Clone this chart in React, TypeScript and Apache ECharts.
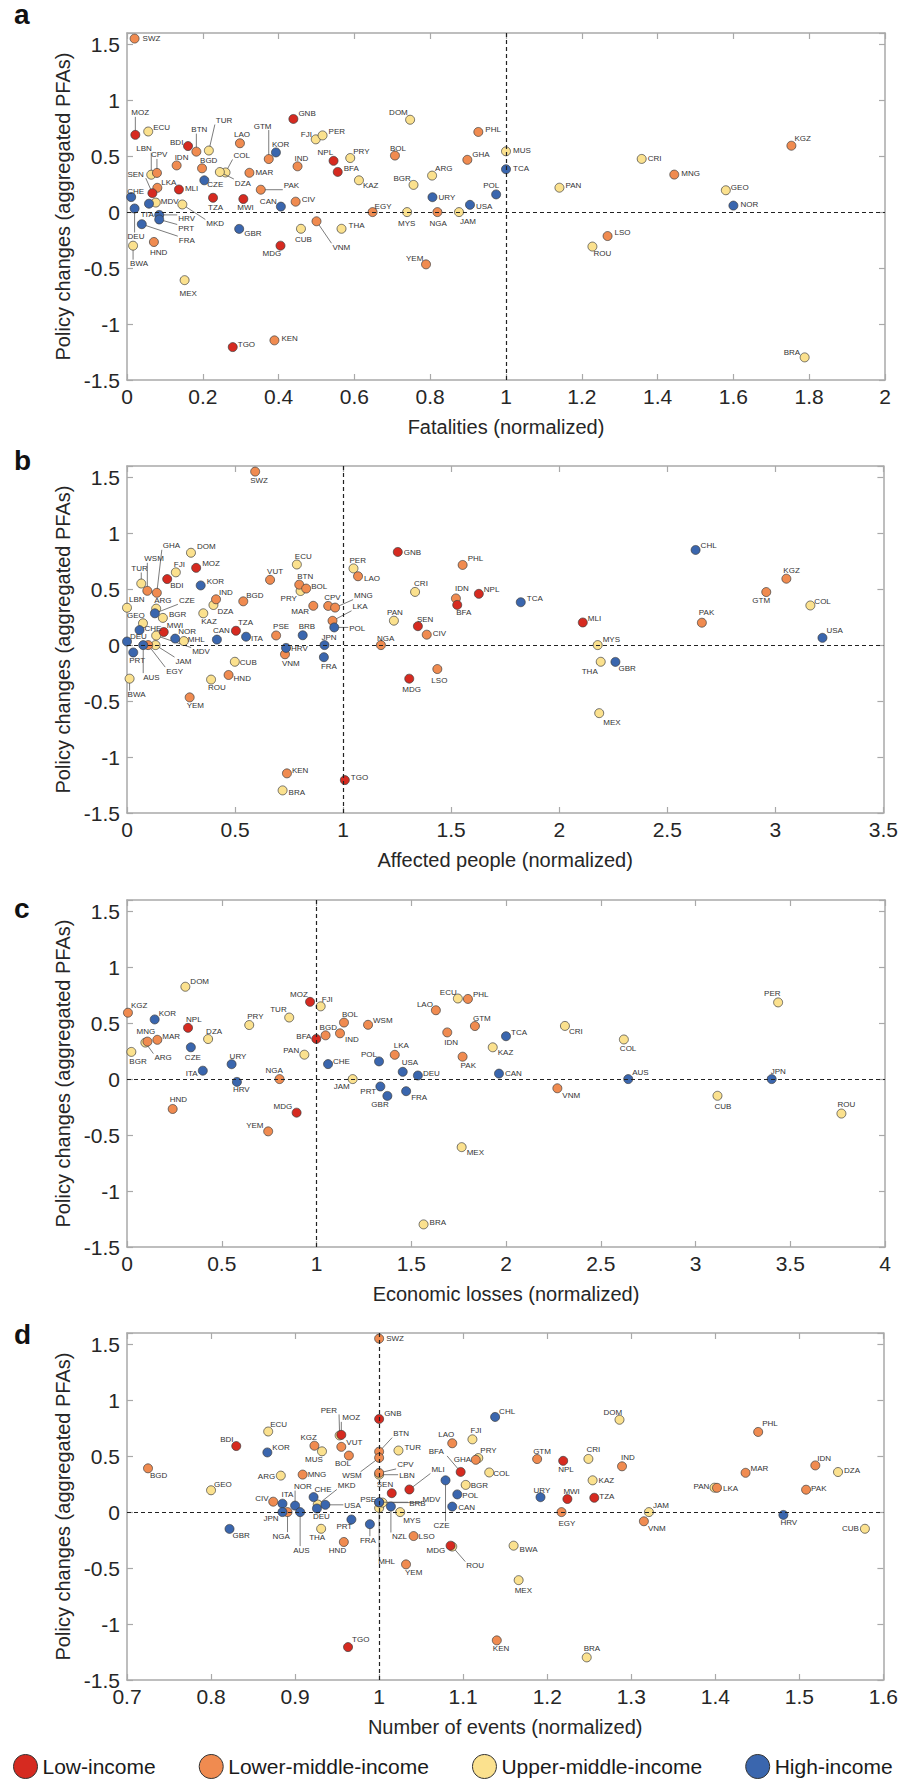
import React, { useEffect, useRef } from "react";
import * as echarts from "echarts";

const FONT = '"Liberation Sans", Arial, Helvetica, sans-serif';

const incomeGroups = ["Low-income", "Lower-middle-income", "Upper-middle-income", "High-income"];
const groupColors = ["#d62a20", "#f08b50", "#fbe18e", "#3a66ae"];

const lowIncome = ["MOZ", "BDI", "GNB", "NPL", "BFA", "SEN", "MLI", "TZA", "MWI", "MDG", "TGO"];
const lowerMiddleIncome = ["SWZ", "BTN", "LAO", "GTM", "BOL", "PHL", "GHA", "IND", "MAR", "PAK", "IDN", "BGD", "CPV", "LKA", "CIV", "VNM", "HND", "KEN", "EGY", "NGA", "YEM", "MNG", "KGZ", "LSO", "WSM", "VUT", "PSE"];
const upperMiddleIncome = ["ECU", "TUR", "FJI", "PER", "PRY", "DOM", "MUS", "COL", "DZA", "LBN", "MDV", "MKD", "CUB", "THA", "BWA", "MEX", "MYS", "JAM", "KAZ", "BGR", "ARG", "PAN", "CRI", "GEO", "ROU", "BRA", "MHL"];
const highIncome = ["KOR", "TCA", "CZE", "CHE", "DEU", "ITA", "HRV", "PRT", "FRA", "CAN", "GBR", "URY", "USA", "POL", "NOR", "CHL", "JPN", "AUS", "NZL", "BRB"];

// Policy changes (aggregated PFAs) per country (y value, shared by all panels)
const policyChanges: [string, number][] = [
  ["SWZ", 1.55], ["MOZ", 0.69], ["ECU", 0.72], ["BDI", 0.59], ["BTN", 0.54], ["TUR", 0.55], ["LAO", 0.615],
  ["GTM", 0.474], ["KOR", 0.533], ["GNB", 0.832], ["FJI", 0.65], ["PER", 0.685], ["NPL", 0.458], ["BFA", 0.359],
  ["PRY", 0.483], ["DOM", 0.825], ["BOL", 0.505], ["PHL", 0.716], ["GHA", 0.467], ["MUS", 0.543], ["TCA", 0.383],
  ["IND", 0.409], ["COL", 0.354], ["DZA", 0.358], ["MAR", 0.351], ["PAK", 0.2], ["CZE", 0.284], ["IDN", 0.417],
  ["BGD", 0.391], ["LBN", 0.334], ["CPV", 0.35], ["SEN", 0.169], ["LKA", 0.217], ["MLI", 0.202], ["CHE", 0.134],
  ["DEU", 0.032], ["ITA", 0.075], ["MDV", 0.085], ["HRV", -0.025], ["PRT", -0.066], ["FRA", -0.108], ["MKD", 0.068],
  ["TZA", 0.128], ["MWI", 0.117], ["CAN", 0.049], ["CIV", 0.093], ["GBR", -0.15], ["CUB", -0.149], ["VNM", -0.082],
  ["THA", -0.149], ["MDG", -0.3], ["HND", -0.267], ["BWA", -0.3], ["MEX", -0.608], ["TGO", -1.206], ["KEN", -1.146],
  ["EGY", 0], ["MYS", 0], ["NGA", 0], ["JAM", 0], ["KAZ", 0.284], ["BGR", 0.243], ["ARG", 0.326], ["URY", 0.133],
  ["USA", 0.065], ["POL", 0.158], ["YEM", -0.467], ["PAN", 0.218], ["CRI", 0.475], ["MNG", 0.335], ["KGZ", 0.593],
  ["GEO", 0.195], ["NOR", 0.058], ["LSO", -0.214], ["ROU", -0.308], ["BRA", -1.298], ["WSM", 0.485], ["VUT", 0.583],
  ["PSE", 0.086], ["BRB", 0.088], ["JPN", 0], ["AUS", 0], ["MHL", 0.036], ["CHL", 0.85], ["NZL", 0.05],
];

// Panel a: Fatalities (normalized)
const fatalities: [string, number][] = [
  ["SWZ", 0.02], ["MOZ", 0.022], ["ECU", 0.056], ["BDI", 0.161], ["BTN", 0.183], ["TUR", 0.216], ["LAO", 0.298],
  ["GTM", 0.374], ["KOR", 0.393], ["GNB", 0.439], ["FJI", 0.498], ["PER", 0.516], ["NPL", 0.545], ["BFA", 0.556],
  ["PRY", 0.589], ["DOM", 0.747], ["BOL", 0.707], ["PHL", 0.927], ["GHA", 0.898], ["MUS", 1.0], ["TCA", 1.0],
  ["IND", 0.45], ["COL", 0.26], ["DZA", 0.245], ["MAR", 0.323], ["PAK", 0.353], ["CZE", 0.204], ["IDN", 0.131],
  ["BGD", 0.198], ["LBN", 0.064], ["CPV", 0.079], ["SEN", 0.067], ["LKA", 0.08], ["MLI", 0.137], ["CHE", 0.011],
  ["DEU", 0.02], ["ITA", 0.058], ["MDV", 0.076], ["HRV", 0.085], ["PRT", 0.085], ["FRA", 0.039], ["MKD", 0.146],
  ["TZA", 0.227], ["MWI", 0.307], ["CAN", 0.406], ["CIV", 0.445], ["GBR", 0.296], ["CUB", 0.459], ["VNM", 0.5],
  ["THA", 0.566], ["MDG", 0.405], ["HND", 0.071], ["BWA", 0.016], ["MEX", 0.152], ["TGO", 0.279], ["KEN", 0.389],
  ["EGY", 0.648], ["MYS", 0.739], ["NGA", 0.819], ["JAM", 0.876], ["KAZ", 0.612], ["BGR", 0.756], ["ARG", 0.805],
  ["URY", 0.806], ["USA", 0.905], ["POL", 0.974], ["YEM", 0.789], ["PAN", 1.141], ["CRI", 1.358], ["MNG", 1.444],
  ["KGZ", 1.753], ["GEO", 1.58], ["NOR", 1.6], ["LSO", 1.268], ["ROU", 1.228], ["BRA", 1.788],
];

// Panel b: Affected people (normalized)
const affectedPeople: [string, number][] = [
  ["SWZ", 0.593], ["GHA", 0.138], ["WSM", 0.094], ["TUR", 0.066], ["FJI", 0.226], ["DOM", 0.296], ["MOZ", 0.32],
  ["BDI", 0.186], ["KOR", 0.341], ["LBN", 0.0], ["ARG", 0.135], ["CZE", 0.129], ["BGR", 0.166], ["GEO", 0.074],
  ["CHE", 0.058], ["MWI", 0.17], ["DEU", 0.0], ["PRT", 0.029], ["AUS", 0.075], ["EGY", 0.098], ["JAM", 0.132],
  ["MDV", 0.135], ["NOR", 0.223], ["MHL", 0.263], ["IND", 0.412], ["DZA", 0.4], ["KAZ", 0.353], ["BGD", 0.538],
  ["CAN", 0.416], ["TZA", 0.504], ["ITA", 0.551], ["CUB", 0.499], ["HND", 0.47], ["ROU", 0.389], ["BWA", 0.012],
  ["YEM", 0.29], ["ECU", 0.786], ["VUT", 0.662], ["BTN", 0.797], ["BOL", 0.829], ["PRY", 0.803], ["MAR", 0.862],
  ["CPV", 0.931], ["MNG", 0.963], ["LKA", 0.951], ["POL", 0.959], ["PSE", 0.69], ["BRB", 0.813], ["JPN", 0.914],
  ["HRV", 0.736], ["VNM", 0.731], ["FRA", 0.911], ["PER", 1.048], ["LAO", 1.069], ["GNB", 1.253], ["PHL", 1.553],
  ["CRI", 1.333], ["IDN", 1.522], ["NPL", 1.628], ["BFA", 1.528], ["PAN", 1.235], ["SEN", 1.346], ["CIV", 1.387],
  ["NGA", 1.175], ["MDG", 1.306], ["LSO", 1.436], ["KEN", 0.74], ["BRA", 0.72], ["TGO", 1.008], ["TCA", 1.822],
  ["MLI", 2.109], ["MYS", 2.178], ["THA", 2.192], ["GBR", 2.26], ["MEX", 2.185], ["CHL", 2.631], ["PAK", 2.66],
  ["GTM", 2.958], ["KGZ", 3.051], ["COL", 3.162], ["USA", 3.218],
];

// Panel c: Economic losses (normalized)
const economicLosses: [string, number][] = [
  ["DOM", 0.308], ["KGZ", 0.005], ["KOR", 0.146], ["NPL", 0.322], ["MNG", 0.108], ["ARG", 0.097], ["MAR", 0.16],
  ["BGR", 0.023], ["CZE", 0.337], ["DZA", 0.428], ["ITA", 0.4], ["PRY", 0.645], ["URY", 0.552], ["HRV", 0.58],
  ["HND", 0.241], ["NGA", 0.805], ["TUR", 0.856], ["PAN", 0.936], ["MOZ", 0.966], ["FJI", 1.022], ["BFA", 0.999],
  ["BGD", 1.048], ["BOL", 1.145], ["IND", 1.124], ["CHE", 1.061], ["JAM", 1.191], ["WSM", 1.272], ["MDG", 0.895],
  ["YEM", 0.745], ["LKA", 1.413], ["POL", 1.33], ["USA", 1.455], ["DEU", 1.535], ["PRT", 1.337], ["GBR", 1.374],
  ["FRA", 1.473], ["LAO", 1.63], ["ECU", 1.746], ["PHL", 1.799], ["IDN", 1.69], ["GTM", 1.836], ["PAK", 1.771],
  ["KAZ", 1.93], ["MEX", 1.766], ["BRA", 1.565], ["TCA", 2.0], ["CAN", 1.963], ["CRI", 2.311], ["VNM", 2.271],
  ["COL", 2.622], ["AUS", 2.645], ["CUB", 3.116], ["PER", 3.436], ["JPN", 3.402], ["ROU", 3.77],
];

// Panel d: Number of events (normalized)
const numberOfEvents: [string, number][] = [
  ["SWZ", 1.0], ["GNB", 1.0], ["BGD", 0.725], ["BDI", 0.83], ["ECU", 0.868], ["KOR", 0.867], ["GEO", 0.8],
  ["GBR", 0.822], ["ARG", 0.883], ["CIV", 0.874], ["ITA", 0.885], ["JPN", 0.885], ["NGA", 0.891], ["NOR", 0.9],
  ["AUS", 0.906], ["KGZ", 0.923], ["MUS", 0.932], ["MNG", 0.909], ["CHE", 0.922], ["MKD", 0.927], ["DEU", 0.926],
  ["USA", 0.936], ["MOZ", 0.955], ["PER", 0.953], ["VUT", 0.955], ["BOL", 0.964], ["THA", 0.931], ["HND", 0.958],
  ["PRT", 0.967], ["FRA", 0.989], ["TGO", 0.963], ["BTN", 1.0], ["WSM", 1.0], ["CPV", 1.0], ["LBN", 1.0],
  ["PSE", 1.0], ["BRB", 1.0], ["MHL", 1.0], ["TUR", 1.023], ["SEN", 1.015], ["MLI", 1.036], ["MDV", 1.004],
  ["NZL", 1.014], ["MYS", 1.025], ["LSO", 1.041], ["YEM", 1.032], ["LAO", 1.087], ["FJI", 1.111], ["GHA", 1.115],
  ["PRY", 1.118], ["BFA", 1.097], ["COL", 1.131], ["CZE", 1.079], ["BGR", 1.103], ["POL", 1.093], ["CAN", 1.087],
  ["MDG", 1.085], ["ROU", 1.087], ["CHL", 1.138], ["KEN", 1.14], ["GTM", 1.188], ["NPL", 1.219], ["CRI", 1.249],
  ["IND", 1.289], ["DOM", 1.286], ["KAZ", 1.254], ["URY", 1.192], ["MWI", 1.224], ["TZA", 1.256], ["EGY", 1.217],
  ["JAM", 1.321], ["VNM", 1.315], ["BWA", 1.16], ["MEX", 1.166], ["BRA", 1.247], ["PHL", 1.451], ["MAR", 1.436],
  ["PAN", 1.399], ["LKA", 1.402], ["IDN", 1.519], ["DZA", 1.546], ["PAK", 1.508], ["HRV", 1.481], ["CUB", 1.578],
];

const xAxisNames = ["Fatalities (normalized)", "Affected people (normalized)", "Economic losses (normalized)", "Number of events (normalized)"];
const xRanges: [number, number, number][] = [[0, 2, 0.2], [0, 3.5, 0.5], [0, 4, 0.5], [0.7, 1.6, 0.1]];
const yRange: [number, number, number] = [-1.5, 1.6, 0.5];
const yAxisName = "Policy changes (aggregated PFAs)";
const panelLetters = ["a", "b", "c", "d"];
const refX = 1;
const refY = 0;

// ---- label placement (pixel offsets of label left-middle from its point; 3rd = leader line) ----
type LabelSpec = [number, number, number?];
const labelsA: Record<string, LabelSpec> = {
  SWZ: [8, 0], MOZ: [-4, -22, 1], ECU: [5, -4], BDI: [-18, -4], BTN: [-5, -22, 1], TUR: [7, -30, 1], LAO: [-6, -9],
  GTM: [-15, -33, 1], KOR: [-4, -8], GNB: [5, -5], FJI: [-15, -5], PER: [6, -4], NPL: [-16, -8], BFA: [6, -3],
  PRY: [3, -7], DOM: [-21, -7], BOL: [-5, -7], PHL: [7, -2], GHA: [5, -5], MUS: [7, -1], TCA: [7, -1], IND: [-3, -8],
  COL: [8, -17, 1], DZA: [15, 11, 1], BGD: [-2, -8], MAR: [6, 0], PAK: [23, -4, 1], CZE: [3, 4], IDN: [-2, -8],
  LBN: [-15, -26, 1], CPV: [-6, -18, 1], SEN: [-25, -19, 1], LKA: [4, -5], MLI: [6, -1], CHE: [-4, -6],
  DEU: [-7, 28, 1], ITA: [-7, 11], MDV: [5, -1], HRV: [19, 4, 1], PRT: [19, 9, 1], FRA: [37, 16, 1], MKD: [24, 19, 1],
  TZA: [-5, 10], MWI: [-6, 8], CAN: [-21, -5], CIV: [6, -2], GBR: [5, 5], CUB: [-6, 11], VNM: [16, 26, 1],
  THA: [7, -3], MDG: [-18, 8], HND: [-4, 11], BWA: [-3, 18, 1], MEX: [-5, 13], TGO: [5, -3], KEN: [7, -2],
  EGY: [2, -6], MYS: [-9, 11], NGA: [-8, 11], JAM: [1, 9], KAZ: [4, 5], BGR: [-20, -6], ARG: [3, -7], URY: [6, 0],
  USA: [6, 2], POL: [-13, -9], YEM: [-20, -6], PAN: [6, -2], CRI: [6, 0], MNG: [7, -1], KGZ: [3, -7], GEO: [5, -3],
  NOR: [7, -1], LSO: [7, -4], ROU: [1, 7], BRA: [-21, -5],
};
const labelsB: Record<string, LabelSpec> = {
  SWZ: [-5, 9], GHA: [6, -47, 1], WSM: [-3, -32, 1], TUR: [-10, -15, 1], FJI: [-2, -8], DOM: [6, -6], MOZ: [6, -4],
  BDI: [3, 6], KOR: [6, -4], LBN: [2, -8], ARG: [-2, -8], CZE: [24, -13, 1], BGR: [6, -3], GEO: [-16, -8],
  CHE: [5, -2], MWI: [3, -7], DEU: [3, -5], PRT: [-4, 8], AUS: [0, 32, 1], EGY: [18, 26, 1], JAM: [20, 16, 1],
  MDV: [36, 16, 1], NOR: [3, -7], MHL: [4, -2], IND: [3, -7], DZA: [4, 6], KAZ: [-2, 8], BGD: [3, -6], CAN: [-4, -9],
  TZA: [2, -8], ITA: [5, 2], CUB: [5, 1], HND: [5, 4], ROU: [-3, 8], BWA: [-2, 16, 1], YEM: [-3, 8], ECU: [-2, -8],
  VUT: [-3, -8], BTN: [-2, -8], BOL: [5, -2], PRY: [-20, 7], MAR: [-22, 6], CPV: [-4, -8], MNG: [19, -12, 1],
  LKA: [20, -14, 1], POL: [15, 1, 1], PSE: [-3, -9], BRB: [-4, -9], JPN: [-3, -8], HRV: [5, 1], VNM: [-3, 9],
  FRA: [-3, 9], PER: [-4, -8], LAO: [6, 2], GNB: [6, 1], PHL: [5, -6], CRI: [-1, -8], IDN: [-1, -10], NPL: [5, -4],
  BFA: [-1, 8], PAN: [-7, -8], SEN: [-1, -7], CIV: [6, -1], NGA: [-4, -7], MDG: [-7, 11], LSO: [-6, 11], KEN: [5, -3],
  BRA: [6, 2], TGO: [6, -3], TCA: [6, -4], MLI: [5, -4], MYS: [5, -6], THA: [-19, 10], GBR: [3, 7], MEX: [4, 9],
  CHL: [5, -4], PAK: [-3, -10], GTM: [-14, 8], KGZ: [-3, -8], COL: [4, -4], USA: [4, -7],
};
const labelsC: Record<string, LabelSpec> = {
  DOM: [5, -5], KGZ: [3, -7], KOR: [4, -6], NPL: [-2, -8], MNG: [-11, -10], ARG: [9, 15, 1], MAR: [5, -3],
  BGR: [-2, 10], CZE: [-6, 10], DZA: [-2, -8], ITA: [-17, 3], PRY: [-2, -9], URY: [-2, -8], HRV: [-4, 8],
  HND: [-3, -9], NGA: [-14, -9], TUR: [-19, -8], PAN: [-21, -4], MOZ: [-20, -7], FJI: [1, -7], BFA: [-20, -2],
  BGD: [-6, -8], BOL: [-2, -8], IND: [5, 6], CHE: [5, -3], JAM: [-19, 7], WSM: [5, -4], MDG: [-23, -6],
  YEM: [-22, -6], LKA: [-1, -9], POL: [-18, -7], USA: [-1, -9], DEU: [5, -2], PRT: [-20, 5], GBR: [-16, 9],
  FRA: [5, 6], LAO: [-19, -6], ECU: [-18, -6], PHL: [5, -4], IDN: [-3, 10], GTM: [-2, -8], PAK: [-2, 9],
  KAZ: [5, 5], MEX: [5, 5], BRA: [6, -2], TCA: [5, -4], CAN: [6, 0], CRI: [4, 6], VNM: [5, 7], COL: [-4, 9],
  AUS: [4, -7], CUB: [-3, 11], PER: [-14, -9], JPN: [-1, -8], ROU: [-4, -9],
};
const labelsD: Record<string, LabelSpec> = {
  SWZ: [7, 0], GNB: [5, -5], BGD: [2, 7], BDI: [-16, -7], ECU: [2, -7], KOR: [5, -5], GEO: [3, -6], GBR: [3, 7],
  ARG: [-23, 1], CIV: [-18, -3], ITA: [-1, -9], JPN: [-19, 6], NGA: [-15, 24, 1], NOR: [-1, -19, 1],
  AUS: [-7, 38, 1], KGZ: [-14, -8], MUS: [-17, 8], MNG: [5, 0], CHE: [1, -8], DEU: [-4, 8], MKD: [20, -19, 1],
  USA: [19, 1, 1], PER: [-19, -25, 1], MOZ: [1, -17, 1], VUT: [5, -4], BOL: [-14, 8], THA: [-12, 9], HND: [-15, 9],
  PRT: [-15, 7], FRA: [-10, 16, 1], TGO: [4, -8], BTN: [14, -18, 1], WSM: [-37, 18, 1], CPV: [18, -8, 1],
  LBN: [20, 1, 1], SEN: [-15, -9], MLI: [22, -20, 1], MDV: [40, -3, 1], PSE: [-19, -3], BRB: [30, 1, 1],
  MHL: [-1, 53, 1], NZL: [1, 30, 1], MYS: [3, 8], LSO: [5, 0], YEM: [-1, 8], LAO: [-14, -9], FJI: [-2, -9],
  PRY: [2, -8], GHA: [-22, 0], BFA: [-32, -20, 1], COL: [4, 1], CZE: [-12, 45, 1], BGR: [5, 1], POL: [5, 1],
  CAN: [6, 1], MDG: [-24, 5], ROU: [14, 19, 1], CHL: [4, -5], KEN: [-4, 8], GTM: [-4, -8], NPL: [-5, 9],
  CRI: [-2, -9], IND: [-1, -9], DOM: [-16, -7], KAZ: [6, 0], URY: [-7, -7], MWI: [-4, -8], TZA: [5, -1],
  EGY: [-3, 11], JAM: [4, -7], VNM: [4, 7], BWA: [6, 4], MEX: [-4, 10], BRA: [-3, -9], PHL: [4, -8], MAR: [5, -4],
  PAN: [-21, -1], LKA: [6, 1], IDN: [2, -7], DZA: [6, -2], PAK: [5, -1], HRV: [-3, 8], CUB: [-23, 0],
};

const GRID_LEFT = 127;
const GRID_WIDTH = 758;
const GRID_HEIGHT = 347;
const gridTops = [33, 466, 900, 1333];
const letterTops = [0, 446, 894, 1320];

function groupOf(code: string): number {
  if (lowIncome.includes(code)) return 0;
  if (lowerMiddleIncome.includes(code)) return 1;
  if (upperMiddleIncome.includes(code)) return 2;
  return 3;
}

function makeRenderItem(codes: string[], layout: Record<string, LabelSpec>) {
  return (params: any, api: any) => {
    const code = codes[params.dataIndex];
    const p = api.coord([api.value(0), api.value(1)]);
    const spec = layout[code] || [6, -3];
    const dx = spec[0];
    const dy = spec[1];
    const tx = p[0] + dx;
    const ty = p[1] + dy;
    const children: any[] = [];
    if (spec[2]) {
      const w = code.length * 5.8;
      const h = 8;
      const nx = Math.min(Math.max(p[0], tx - 1), tx + w + 1);
      const ny = Math.min(Math.max(p[1], ty - h / 2), ty + h / 2);
      children.push({
        type: "line",
        shape: { x1: p[0], y1: p[1], x2: nx, y2: ny },
        style: { stroke: "#5a5a5a", lineWidth: 0.8 },
      });
    }
    children.push({
      type: "circle",
      shape: { cx: p[0], cy: p[1], r: 4.5 },
      style: { fill: api.visual("color"), stroke: "#3c3c3c", lineWidth: 0.7 },
    });
    children.push({
      type: "text",
      x: tx,
      y: ty,
      style: {
        text: code,
        fill: "#333333",
        fontSize: 8,
        fontFamily: FONT,
        align: "left",
        verticalAlign: "middle",
      },
    });
    return { type: "group", children };
  };
}

function fmt(v: number): string {
  return String(Number(v.toFixed(2)));
}

function buildOption(): any {
  const policyMap = new Map<string, number>(policyChanges);
  const panels = [
    { data: fatalities, labels: labelsA },
    { data: affectedPeople, labels: labelsB },
    { data: economicLosses, labels: labelsC },
    { data: numberOfEvents, labels: labelsD },
  ];
  const grid: any[] = [];
  const xAxis: any[] = [];
  const yAxis: any[] = [];
  const series: any[] = [];
  const graphic: any[] = [];
  const frameColor = "#a9a9a9";
  const textColor = "#262626";

  panels.forEach((panel, i) => {
    grid.push({ left: GRID_LEFT, width: GRID_WIDTH, top: gridTops[i], height: GRID_HEIGHT });
    const [xmin, xmax, xint] = xRanges[i];
    const baseX = {
      gridIndex: i,
      type: "value",
      min: xmin,
      max: xmax,
      interval: xint,
      splitLine: { show: false },
      axisLine: { show: true, onZero: false, lineStyle: { color: frameColor, width: 1.5 } },
      axisTick: { show: true, inside: true, length: 6, lineStyle: { color: frameColor, width: 1.2 } },
    };
    xAxis.push({
      ...baseX,
      position: "bottom",
      axisLabel: { fontSize: 21, color: textColor, fontFamily: FONT, margin: 6, formatter: fmt },
      name: xAxisNames[i],
      nameLocation: "middle",
      nameGap: 37,
      nameTextStyle: { fontSize: 20, color: textColor, fontFamily: FONT },
    });
    xAxis.push({ ...baseX, position: "top", axisLabel: { show: false } });
    const baseY = {
      gridIndex: i,
      type: "value",
      min: yRange[0],
      max: yRange[1],
      interval: yRange[2],
      splitLine: { show: false },
      axisLine: { show: true, onZero: false, lineStyle: { color: frameColor, width: 1.5 } },
      axisTick: { show: true, inside: true, length: 6, lineStyle: { color: frameColor, width: 1.2 } },
    };
    yAxis.push({
      ...baseY,
      position: "left",
      axisLabel: {
        fontSize: 21,
        color: textColor,
        fontFamily: FONT,
        margin: 7,
        formatter: (v: number) => (v > 1.55 ? "" : fmt(v)),
      },
      name: yAxisName,
      nameLocation: "middle",
      nameGap: 47,
      nameRotate: 90,
      nameTextStyle: { fontSize: 20, color: textColor, fontFamily: FONT },
    });
    yAxis.push({ ...baseY, position: "right", axisLabel: { show: false } });

    // reference dashed lines
    series.push({
      type: "scatter",
      xAxisIndex: i * 2,
      yAxisIndex: i * 2,
      data: [],
      silent: true,
      markLine: {
        silent: true,
        symbol: ["none", "none"],
        label: { show: false },
        lineStyle: { type: [4, 3], color: "#222", width: 1.2 },
        data: [{ xAxis: refX }, { yAxis: refY }],
      },
    });

    [2, 1, 0, 3].forEach((g) => {
      const items = panel.data.filter(([c]) => groupOf(c) === g);
      const codes = items.map((d) => d[0]);
      series.push({
        type: "custom",
        name: incomeGroups[g],
        coordinateSystem: "cartesian2d",
        xAxisIndex: i * 2,
        yAxisIndex: i * 2,
        itemStyle: { color: groupColors[g] },
        data: items.map(([c, x]) => [x, policyMap.get(c) as number]),
        encode: { x: 0, y: 1 },
        renderItem: makeRenderItem(codes, panel.labels),
        clip: false,
        silent: true,
      });
    });

    graphic.push({
      type: "text",
      left: 14,
      top: letterTops[i],
      style: { text: panelLetters[i], fontSize: 28, fontWeight: "bold", fontFamily: FONT, fill: "#111" },
    });
  });

  return {
    animation: false,
    backgroundColor: "#ffffff",
    grid,
    xAxis,
    yAxis,
    series,
    graphic,
    legend: {
      data: incomeGroups,
      top: 1749,
      left: 8,
      icon: "circle",
      itemWidth: 24,
      itemHeight: 24,
      itemGap: 43,
      selectedMode: false,
      itemStyle: { borderColor: "#333", borderWidth: 1 },
      textStyle: { fontSize: 21, color: "#1a1a1a", fontFamily: FONT },
    },
  };
}

export default function App() {
  const ref = useRef<HTMLDivElement>(null);
  useEffect(() => {
    document.body.style.margin = "0";
    if (!ref.current) return;
    const chart = echarts.init(ref.current, null, { renderer: "svg" });
    chart.setOption(buildOption());
    return () => {
      chart.dispose();
    };
  }, []);
  return <div ref={ref} style={{ width: 901, height: 1788 }} />;
}
